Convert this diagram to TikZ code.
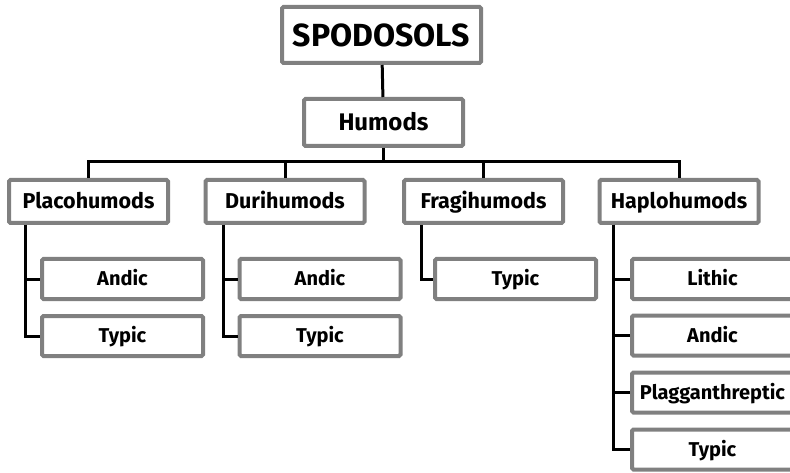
\documentclass[tikz,border=0pt]{standalone}
\usepackage{fontspec}
\setmainfont{Fira Sans}
\begin{document}
\begin{tikzpicture}[x=1pt,y=-1pt,
  box/.style={draw=boxgray, line width=4pt, fill=white, rounded corners=1.5pt, inner sep=0pt, align=center},
  lvl2/.style={box, minimum width=159pt, minimum height=43pt, font=\bfseries\fontsize{21.5}{25}\selectfont, text height=17.2pt, text depth=2.4pt},
  sub/.style={box, minimum width=161pt, minimum height=40pt, font=\bfseries\fontsize{20}{24}\selectfont, text height=16pt, text depth=2.2pt},
  topbox/.style={box, minimum width=199pt, minimum height=56pt, font=\bfseries\fontsize{32}{36}\selectfont, text height=25.6pt, text depth=3.5pt},
  ordbox/.style={box, minimum width=159pt, minimum height=47pt, font=\bfseries\fontsize{24}{28}\selectfont, text height=19.2pt, text depth=2.6pt},
  conn/.style={line width=3pt, draw=black, line join=miter}]
\definecolor{boxgray}{RGB}{128,128,128}
\useasboundingbox (0,0) rectangle (790,473);
% top
\node[topbox] (spod) at (381.5,35) {SPODOSOLS};
\node[ordbox] (hum) at (383.5,122.5) {Humods};
% level 2
\node[lvl2] (placo) at (88.5,201.5) {Placohumods};
\node[lvl2] (duri) at (285,201.5) {Durihumods};
\node[lvl2] (fragi) at (483.5,201.5) {Fragihumods};
\node[lvl2] (haplo) at (679,201.5) {Haplohumods};
% subgroups
\node[sub] (pandic) at (122.5,279) {Andic};
\node[sub] (ptypic) at (122.5,336) {Typic};
\node[sub] (dandic) at (320,279) {Andic};
\node[sub] (dtypic) at (320,336) {Typic};
\node[sub] (ftypic) at (515.5,279) {Typic};
\node[sub] (hlithic) at (712.5,279) {Lithic};
\node[sub] (handic) at (712.5,335.5) {Andic};
\node[sub] (hplagg) at (712.5,392.5) {Plagganthreptic};
\node[sub] (htypic) at (712.5,449.5) {Typic};
\coordinate (bar) at (383,162);
% connectors
\draw[conn] (spod) -- (hum);
\draw[conn] (hum.south) -- (hum.south |- bar);
\draw[conn] (placo.north) |- (haplo.north |- bar) -- (haplo.north);
\draw[conn] (duri.north) -- (duri.north |- bar);
\draw[conn] (fragi.north) -- (fragi.north |- bar);
\coordinate (pv) at ([xshift=18pt]placo.south west);
\coordinate (dv) at ([xshift=20pt]duri.south west);
\coordinate (fv) at ([xshift=19pt]fragi.south west);
\coordinate (hv) at ([xshift=16pt]haplo.south west);
\draw[conn] (pv) |- (pandic.west);
\draw[conn] (pv) |- (ptypic.west);
\draw[conn] (dv) |- (dandic.west);
\draw[conn] (dv) |- (dtypic.west);
\draw[conn] (fv) |- (ftypic.west);
\draw[conn] (hv) |- (hlithic.west);
\draw[conn] (hv) |- (handic.west);
\draw[conn] (hv) |- (hplagg.west);
\draw[conn] (hv) |- (htypic.west);
\end{tikzpicture}
\end{document}
